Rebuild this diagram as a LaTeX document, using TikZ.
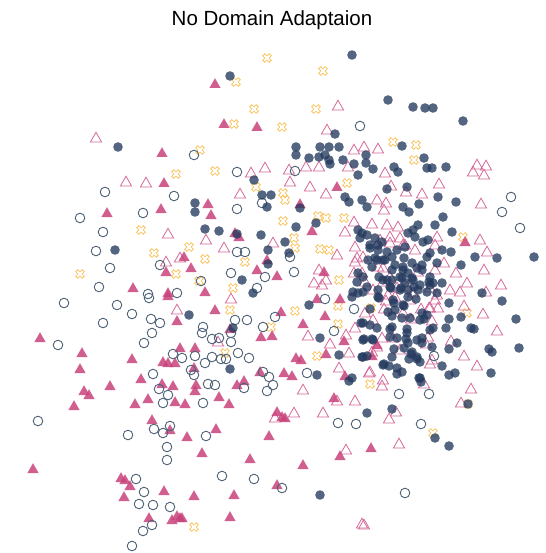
\documentclass[tikz,border=0pt]{standalone}
\usepackage{fontspec}
\usepackage{xcolor}
\usepackage{tikz}
\newfontfamily\titlefont{Liberation Sans}
\definecolor{navy}{RGB}{36,58,94}
\definecolor{slate}{RGB}{78,98,120}
\definecolor{berry}{RGB}{200,66,122}
\definecolor{rose}{RGB}{212,104,152}
\definecolor{amber}{RGB}{250,196,96}

\begin{document}
\begin{tikzpicture}[x=1pt, y=-1pt]
            \tikzstyle{fcirc} = [fill=navy, fill opacity=0.78]
            \tikzstyle{ocirc} = [draw=slate, line width=0.9pt]
            \tikzstyle{ftri} = [fill=berry, fill opacity=0.85]
            \tikzstyle{otri} = [draw=rose, line width=0.8pt]
            \tikzstyle{xmark} = [draw=amber, line width=0.8pt]

            \useasboundingbox (0,0) rectangle (545,553);
            \node[font=\fontsize{20.5}{24}\selectfont\titlefont, anchor=base] (title) at (272,26) {No Domain Adaptaion};

            \foreach \x/\y in {176/174, 141/230, 154/253, 176/274, 80/274,
                267/58, 323/71, 236/82, 254/109, 316/109, 234/124, 282/127, 200/150, 215/171, 347/183,
                256/187, 283/193, 285/200, 283/221, 318/216, 326/218, 344/218, 189/247, 294/238, 295/248,
                320/249, 329/250, 205/259, 245/262, 339/280, 199/281, 233/288,
                393/142, 416/145, 414/160, 463/237,
                230/310, 271/327, 295/311, 338/306, 338/324, 225/353, 317/356, 194/527,
                371/308, 467/313, 370/384, 468/404, 433/433}
                \draw[xmark, shift={(\x,\y)}, rotate=45] (1.5,4.6) -- (1.5,1.5) -- (4.6,1.5) -- (4.6,-1.5)
                    -- (1.5,-1.5) -- (1.5,-4.6) -- (-1.5,-4.6) -- (-1.5,-1.5) -- (-4.6,-1.5) -- (-4.6,1.5)
                    -- (-1.5,1.5) -- (-1.5,4.6) -- cycle;

            \foreach \x/\y in {96/138, 126/182, 146/183, 168/234, 180/258, 166/262, 177/310,
                338/106, 327/130, 354/150, 364/147, 306/167, 319/167, 348/167, 251/173, 265/168, 289/170,
                290/182, 310/187, 326/194, 240/194, 354/222, 345/232, 206/240, 224/248, 273/243, 337/255,
                355/247, 319/270, 326/280, 314/283, 322/285, 354/273,
                378/149, 385/173, 477/165, 486/166, 473/172, 484/175, 391/186, 406/192, 422/194, 439/184,
                481/204, 377/200, 386/203, 384/210,
                372/224, 387/225, 398/227, 390/237, 400/238, 405/245, 415/250, 437/237, 480/240, 487/252,
                357/258, 362/273, 365/282, 378/267, 383/282, 390/277, 397/288, 407/287, 413/293, 430/288,
                437/295, 450/290, 460/292, 444/263, 456/273, 467/283, 484/270, 501/285, 486/292,
                384/309, 421/309, 429/308, 438/308, 464/306, 483/314, 411/319, 432/321, 497/331, 393/338,
                426/344, 451/341, 430/364, 464/356, 477/366, 369/373, 382/386, 424/384, 471/389, 461/403,
                396/412, 389/419, 399/444, 364/525, 386/301, 373/320, 395/297,
                380/240, 390/243, 403/245, 363/257, 355/262, 383/268, 373/290, 388/295, 410/300, 435/300,
                430/308, 403/313, 435/270, 418/272, 435/245, 365/313, 382/338, 377/347, 372/352, 400/350,
                428/337, 432/360, 370/372, 383/380,
                231/299, 218/342, 308/336, 346/335, 355/328, 330/344, 349/353, 339/368, 303/390, 337/401,
                355/401, 275/418, 294/413, 323/413, 346/450, 362/524}
                \draw[otri] (\x,\y-5.8) -- (\x-5.6,\y+4) -- (\x+5.6,\y+4) -- cycle;

            \foreach \x/\y in {162/153, 164/183, 107/213, 161/209, 166/272, 133/288, 168/293,
                168/296, 177/321, 40/338, 82/353, 132/359, 180/348, 163/362, 168/363, 175/363, 80/369,
                141/379, 110/386, 162/384, 173/386, 84/391, 89/395, 74/406, 135/404, 148/399, 175/402,
                152/420, 170/430, 33/469, 121/478, 125/480, 130/486, 124/497, 164/491, 149/518, 172/520,
                177/516, 180/518,
                215/84, 224/124, 257/127, 337/187, 300/204, 208/204, 211/215, 312/231, 235/233, 239/237,
                184/257, 267/260, 191/268, 257/270, 324/272, 277/276, 205/292, 465/242,
                215/310, 230/329, 195/348, 281/312, 261/337, 272/336, 317/299, 340/299, 325/316, 303/324,
                344/341, 194/368, 296/358, 301/360, 326/354, 260/372, 284/373, 292/376, 345/376, 196/385,
                195/391, 237/385, 244/381, 185/404, 219/397, 229/404, 334/398, 277/412, 282/417, 285/418,
                187/437, 216/429, 269/436, 202/453, 250/459, 340/456, 303/465, 277/485, 194/496, 234/495,
                182/518, 230/517, 377/345, 372/356, 371/448}
                \fill[ftri] (\x,\y-5.8) -- (\x-5.6,\y+4) -- (\x+5.6,\y+4) -- cycle;

            \foreach \x/\y in {105/192, 174/196, 80/218, 143/213, 103/232, 96/251, 110/268, 160/265,
                99/287, 148/294, 177/293,
                64/303, 117/305, 132/314, 103/323, 151/319, 160/323, 152/333, 144/343, 149/298, 58/345,
                173/354, 153/374, 159/389, 168/395, 163/403, 38/421, 154/429, 163/433, 170/426, 128/435,
                167/447, 167/460, 136/479, 144/492, 139/504, 153/505, 170/507, 152/525, 143/531, 132/546,
                360/126, 194/155, 237/172, 295/171, 262/203, 237/209, 237/252, 245/252, 290/257, 231/273,
                265/277, 294/272, 201/281, 257/288,
                511/197, 502/212, 520/228,
                325/299, 354/309, 203/327, 202/333, 235/320, 247/320, 231/333, 212/339, 219/338, 231/342,
                263/327, 275/317, 334/331, 182/358, 195/356, 205/363, 212/357, 221/359, 226/359, 238/353,
                249/358, 191/370, 194/375, 263/372, 269/377, 307/373, 208/384, 215/385, 244/388, 273/385,
                267/391, 203/403, 338/423, 356/424, 206/436, 222/476, 254/479, 282/488,
                434/356, 399/394, 429/394, 421/424, 405/493}
                \draw[ocirc] (\x,\y) circle (4.8pt);

            \foreach \x/\y in {118/147, 115/250,
                352/55, 230/76, 335/134, 296/147, 296/155, 309/158, 320/147, 329/147, 339/147, 319/157,
                325/155, 329/160, 330/164, 343/160, 354/164, 358/175, 254/180, 345/197, 349/202, 362/200,
                262/195, 271/195, 267/207, 300/208, 195/203, 195/212, 316/223, 296/227, 205/229, 219/231,
                237/234, 261/235, 268/250, 285/242, 289/253, 268/264, 242/280, 253/293,
                388/100, 413/107, 425/108, 433/108, 463/121, 402/146, 366/155, 424/158, 366/163, 373/169,
                394/167, 398/172, 427/168, 432/168, 446/167, 407/187, 387/189, 438/197, 456/202, 367/207,
                403/207, 409/212, 419/204, 443/217, 534/257,
                358/230, 367/235, 360/238, 375/238, 413/230, 418/225, 408/233, 428/240, 435/225, 452/232,
                475/257, 497/258, 370/248, 378/245, 387/252, 392/257, 385/260, 377/260, 368/260, 372/267,
                395/265, 403/267, 412/263, 422/270, 408/273, 402/278, 413/280, 420/285, 358/273, 357/282,
                353/292, 363/292, 378/290, 429/282, 433/283, 442/283, 461/265, 482/293, 442/250, 451/252,
                427/257, 404/258, 417/268, 379/277, 387/280, 391/288, 401/288, 414/287,
                379/298, 370/309, 394/303, 404/306, 416/299, 449/303, 502/301, 392/316, 402/318, 424/319,
                449/319, 461/317, 516/319, 377/328, 390/329, 407/329, 433/328, 446/328, 471/328, 474/329,
                364/339, 372/339, 406/339, 422/338, 449/349, 457/343, 489/349, 492/352, 519/348, 367/356,
                394/349, 404/348, 411/354, 417/359, 409/359, 442/366, 449/375, 455/373, 491/373, 384/364,
                389/366, 397/374, 419/378, 421/382, 468/404, 367/413, 392/409, 435/438, 449/446,
                352/297, 361/323, 339/355, 362/357, 317/375, 349/381, 309/305, 320/338, 320/495, 230/369,
                233/328, 189/315,
                362/233, 370/245, 375/258, 383/260, 392/270, 403/270, 400/277, 392/280, 383/280, 412/278,
                405/283, 430/277, 430/285, 418/290, 408/290, 400/290, 390/287, 363/277, 367/287, 358/293,
                378/297, 393/300, 403/305, 408/297, 427/292, 437/293, 422/313, 427/315, 415/237, 423/242,
                430/253, 437/263, 422/265, 405/247, 382/242, 378/250, 397/250, 388/312, 395/310,
                363/323, 370/325, 363/340, 373/340, 410/318, 392/327, 390/337, 397/338, 407/333, 408/343,
                417/340, 422/343, 430/330, 420/320, 412/352, 417/357, 420/362, 392/357, 383/365, 397/368,
                402/372, 363/357, 352/378, 420/378, 432/347}
                \fill[fcirc] (\x,\y) circle (4.8pt);
        \end{tikzpicture}
\end{document}
